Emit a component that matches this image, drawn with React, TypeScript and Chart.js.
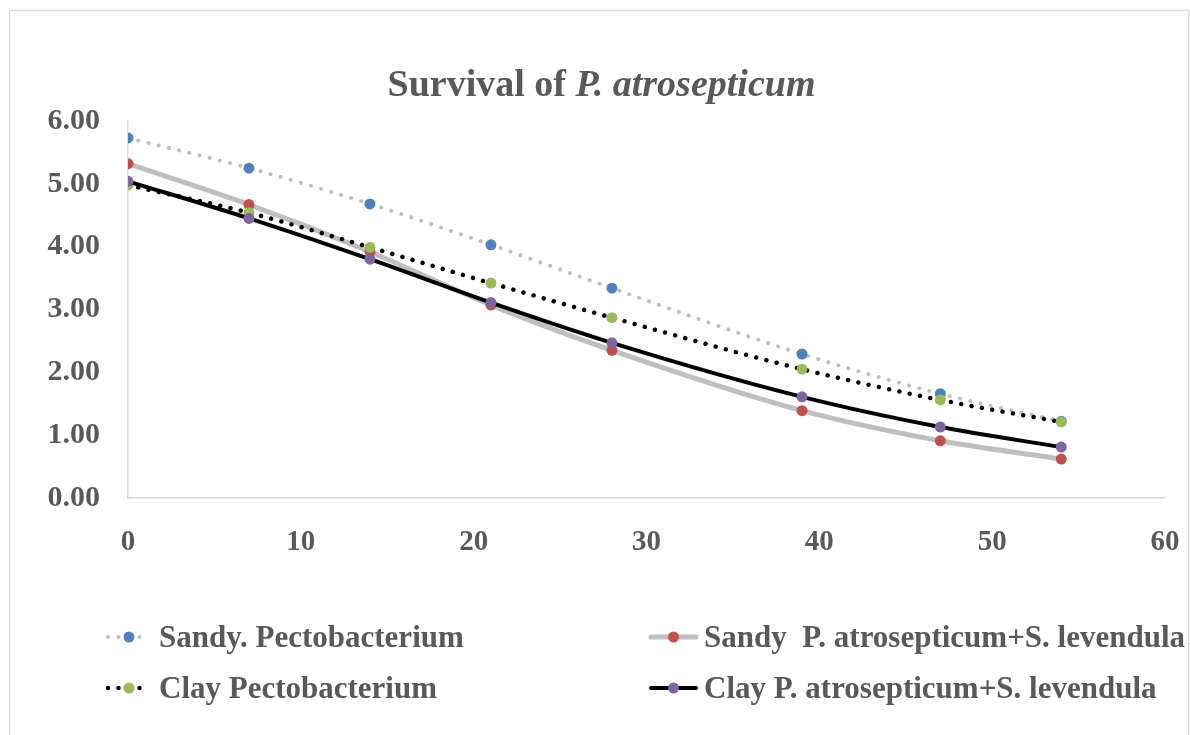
import React, { useEffect, useRef } from "react";
import { Chart, registerables } from "chart.js";

Chart.register(...registerables);

const days = [0, 7, 14, 21, 28, 39, 47, 54];
const sandyPecto = [5.73, 5.25, 4.68, 4.03, 3.34, 2.29, 1.66, 1.22];
const sandyPS = [5.32, 4.67, 3.92, 3.07, 2.35, 1.39, 0.91, 0.62];
const clayPecto = [4.98, 4.54, 3.99, 3.42, 2.87, 2.05, 1.56, 1.21];
const clayPS = [5.04, 4.45, 3.8, 3.11, 2.47, 1.61, 1.13, 0.81];

const seriesNames = [
  "Sandy. Pectobacterium",
  "Sandy  P. atrosepticum+S. levendula",
  "Clay Pectobacterium",
  "Clay P. atrosepticum+S. levendula",
];
const xTicks = [0, 10, 20, 30, 40, 50, 60];
const yTicks = [0, 1, 2, 3, 4, 5, 6];
const titleMain = "Survival of ";
const titleItalic = "P. atrosepticum";

const FONT = "'Liberation Serif', 'Times New Roman', serif";
const TEXT = "#595959";

const styles = [
  { line: "#bfbfbf", width: 4, dash: [0.01, 10.5], marker: "#4F81BD" },
  { line: "#bfbfbf", width: 5, dash: [], marker: "#C0504D" },
  { line: "#000000", width: 4.5, dash: [0.01, 10.5], marker: "#9BBB59" },
  { line: "#000000", width: 4, dash: [], marker: "#8064A2" },
];

const seriesData = [sandyPecto, sandyPS, clayPecto, clayPS];

const decorPlugin = {
  id: "decor",
  beforeDraw(chart: any) {
    const ctx = chart.ctx;
    ctx.save();
    ctx.strokeStyle = "#d9d9d9";
    ctx.lineWidth = 1.5;
    ctx.beginPath();
    ctx.moveTo(9.5, 740);
    ctx.lineTo(9.5, 10.5);
    ctx.lineTo(1188.5, 10.5);
    ctx.lineTo(1188.5, 740);
    ctx.stroke();
    ctx.restore();
  },
  afterDraw(chart: any) {
    const ctx = chart.ctx;
    ctx.save();
    // title
    ctx.fillStyle = TEXT;
    ctx.textBaseline = "alphabetic";
    ctx.font = `bold 38px ${FONT}`;
    const w1 = ctx.measureText(titleMain).width;
    ctx.font = `italic bold 38px ${FONT}`;
    const w2 = ctx.measureText(titleItalic).width;
    const start = 601.5 - (w1 + w2) / 2;
    ctx.font = `bold 38px ${FONT}`;
    ctx.fillText(titleMain, start, 96);
    ctx.font = `italic bold 38px ${FONT}`;
    ctx.fillText(titleItalic, start + w1, 96);

    // legend
    const pos = [
      { x1: 106, x2: 152, tx: 159, y: 637 },
      { x1: 649, x2: 698, tx: 704, y: 637 },
      { x1: 106, x2: 152, tx: 159, y: 688 },
      { x1: 649, x2: 698, tx: 704, y: 688 },
    ];
    pos.forEach((p, i) => {
      const s = styles[i];
      ctx.save();
      ctx.strokeStyle = s.line;
      ctx.lineWidth = s.width;
      ctx.lineCap = "round";
      ctx.setLineDash(s.dash);
      ctx.beginPath();
      ctx.moveTo(p.x1 + 2, p.y);
      ctx.lineTo(p.x2 - 2, p.y);
      ctx.stroke();
      ctx.setLineDash([]);
      ctx.fillStyle = s.marker;
      ctx.beginPath();
      ctx.arc((p.x1 + p.x2) / 2, p.y, 5.5, 0, Math.PI * 2);
      ctx.fill();
      ctx.restore();
      ctx.fillStyle = TEXT;
      ctx.font = `bold 31px ${FONT}`;
      ctx.textBaseline = "alphabetic";
      ctx.fillText(seriesNames[i], p.tx, p.y + 10);
    });
    ctx.restore();
  },
};

export default function App() {
  const ref = useRef<HTMLCanvasElement | null>(null);
  useEffect(() => {
    if (!ref.current) return;
    const chart = new Chart(ref.current, {
      type: "line",
      data: {
        datasets: seriesData.map((vals, i) => ({
          label: seriesNames[i],
          data: days.map((d, j) => ({ x: d, y: vals[j] })),
          borderColor: styles[i].line,
          borderWidth: styles[i].width,
          borderDash: styles[i].dash,
          borderCapStyle: styles[i].dash.length ? "round" : "butt",
          pointRadius: 5.5,
          pointBackgroundColor: styles[i].marker,
          pointBorderColor: styles[i].marker,
          pointBorderWidth: 0,
          cubicInterpolationMode: "monotone",
          fill: false,
          order: 4 - i,
        })) as any,
      },
      options: {
        responsive: false,
        animation: false,
        events: [],
        layout: { padding: { left: 0, top: 121, right: 25, bottom: 177 } },
        plugins: {
          legend: { display: false },
          title: { display: false },
          tooltip: { enabled: false },
        },
        scales: {
          x: {
            type: "linear",
            min: 0,
            max: 60,
            afterFit: (s: any) => {
              s.height = 60;
              s.paddingLeft = 0;
              s.paddingRight = 0;
            },
            afterBuildTicks: (s: any) => {
              s.ticks = xTicks.map((v) => ({ value: v }));
            },
            grid: { display: false, drawTicks: false },
            border: { display: true, color: "#d9d9d9", width: 1.5 },
            ticks: {
              padding: 27,
              color: TEXT,
              font: { family: FONT, weight: "bold", size: 29 },
              maxRotation: 0,
            },
          },
          y: {
            type: "linear",
            min: 0,
            max: 6,
            afterFit: (s: any) => {
              s.width = 128;
              s.paddingTop = 0;
              s.paddingBottom = 0;
            },
            afterBuildTicks: (s: any) => {
              s.ticks = yTicks.map((v) => ({ value: v }));
            },
            grid: { display: false, drawTicks: false },
            border: { display: true, color: "#d9d9d9", width: 1.5 },
            ticks: {
              padding: 28,
              color: TEXT,
              font: { family: FONT, weight: "bold", size: 30 },
              callback: (v: any) => Number(v).toFixed(2),
            },
          },
        },
      },
      plugins: [decorPlugin],
    });
    return () => chart.destroy();
  }, []);
  return (
    <div style={{ position: "absolute", left: 0, top: 0, width: 1190, height: 735, background: "#fff" }}>
      <canvas ref={ref} width={1190} height={735} />
    </div>
  );
}
